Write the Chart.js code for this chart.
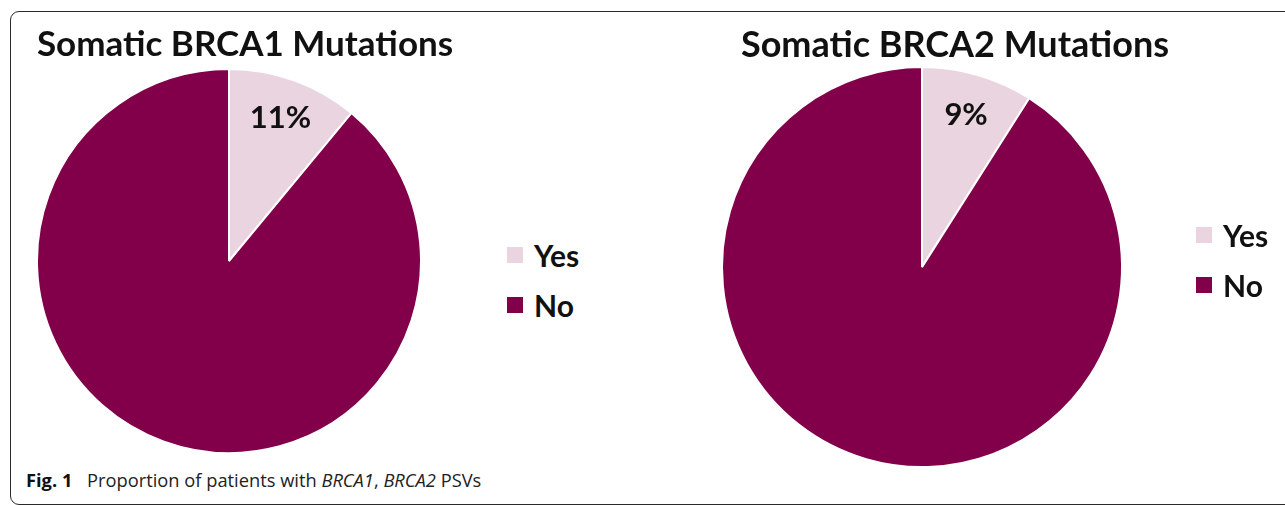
<!DOCTYPE html>
<html>
<head>
<meta charset="utf-8">
<script src="https://cdn.jsdelivr.net/npm/chart.js@4.4.0/dist/chart.umd.min.js"></script>
<style>
  html, body { margin: 0; padding: 0; background: #fff; width: 1285px; height: 505px; overflow: hidden; position: relative; }
  .frame { position: absolute; left: 10px; top: 11px; width: 1300px; height: 492px; border: 1.5px solid #2a2a2a; border-radius: 9px; }
  #box1 { position: absolute; left: 0; top: 0; width: 500px; height: 459px; }
  #box2 { position: absolute; left: 690px; top: 0; width: 595px; height: 471px; }
  .legend { position: absolute; font-family: Lato, sans-serif; font-weight: bold; font-size: 30px; color: #111; }
  .legend div { display: flex; align-items: center; height: 30px; margin-bottom: 20px; }
  .legend span.sw { width: 16px; height: 16px; margin-right: 11px; }
  #legend1 { left: 507px; top: 240px; }
  #legend2 { left: 1196px; top: 220px; }
  .caption { position: absolute; left: 26px; top: 467px; font-family: 'Open Sans', sans-serif; font-size: 18.3px; color: #222; white-space: nowrap; }
  .caption b { color: #111; margin-right: 10px; }
</style>
</head>
<body>
<div class="frame"></div>
<div id="box1"><canvas id="pie1"></canvas></div>
<div id="box2"><canvas id="pie2"></canvas></div>
<div class="legend" id="legend1"></div>
<div class="legend" id="legend2"></div>
<div class="caption"><b>Fig. 1</b> Proportion of patients with <i>BRCA1</i>, <i>BRCA2</i> PSVs</div>

<script>
// data
const categories = ['Yes', 'No'];
const brca1Values = [11, 89];
const brca2Values = [9, 91];
const sliceColors = ['#ead4e0', '#82004a'];
const chartTitles = ['Somatic BRCA1 Mutations', 'Somatic BRCA2 Mutations'];

Chart.defaults.font.family = 'Lato';
Chart.defaults.animation = false;

// percentage text inside the "Yes" slice
const pctLabel = {
  id: 'pctLabel',
  afterDatasetsDraw(chart) {
    const arc = chart.getDatasetMeta(0).data[0];
    const p = arc.getProps(['x', 'y', 'startAngle', 'endAngle', 'outerRadius'], true);
    const mid = (p.startAngle + p.endAngle) / 2;
    const r = p.outerRadius * 0.79;
    const ctx = chart.ctx;
    ctx.save();
    ctx.font = 'bold 31px Lato';
    ctx.fillStyle = '#111';
    ctx.textAlign = 'center';
    ctx.textBaseline = 'middle';
    ctx.fillText(chart.data.datasets[0].data[0] + '%', p.x + Math.cos(mid) * r, p.y + Math.sin(mid) * r);
    ctx.restore();
  }
};

function makePie(id, legendId, values, title, cfg) {
  const chart = new Chart(document.getElementById(id), {
    type: 'pie',
    data: {
      labels: categories,
      datasets: [{
        data: values,
        backgroundColor: sliceColors,
        borderColor: '#fff',
        borderWidth: 2,
        radius: cfg.radius
      }]
    },
    options: {
      responsive: true,
      maintainAspectRatio: false,
      layout: { padding: cfg.padding },
      plugins: {
        title: {
          display: true,
          text: title,
          color: '#111',
          font: { size: cfg.titleSize, weight: 'bold' },
          padding: { top: 24, bottom: cfg.titleGap }
        },
        // empty right-side legend only reserves room so the title sits right of the pie centre
        legend: {
          position: 'right',
          maxWidth: cfg.legendRoom,
          labels: { filter: () => false, padding: 100 }
        },
        tooltip: { enabled: false }
      }
    },
    plugins: [pctLabel]
  });

  // html legend from the chart's own legend items
  const items = Chart.overrides.pie.plugins.legend.labels.generateLabels(chart);
  const box = document.getElementById(legendId);
  items.forEach(it => {
    const row = document.createElement('div');
    const sw = document.createElement('span');
    sw.className = 'sw';
    sw.style.background = it.fillStyle;
    row.appendChild(sw);
    row.appendChild(document.createTextNode(it.text));
    box.appendChild(row);
  });
  return chart;
}

makePie('pie1', 'legend1', brca1Values, chartTitles[0], {
  radius: 192,
  titleSize: 35,
  titleGap: 5,
  legendRoom: 32,
  padding: { left: 0, right: 10, top: 0, bottom: 8 }
});

makePie('pie2', 'legend2', brca2Values, chartTitles[1], {
  radius: 200,
  titleSize: 36,
  titleGap: 4,
  legendRoom: 66,
  padding: { left: 10, right: 75, top: 0, bottom: 8 }
});
</script>
</body>
</html>
